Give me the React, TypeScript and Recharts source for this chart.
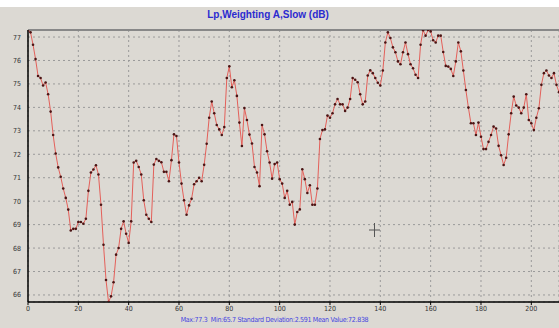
import React from "react";
import {
  LineChart,
  Line,
  XAxis,
  YAxis,
  CartesianGrid,
  ReferenceLine,
} from "recharts";

// sound level, one reading per second
const levels = [
  77.3, 77.2, 76.67, 76.06, 75.34, 75.25, 74.93, 75.06, 74.56, 73.82,
  72.82, 72.03, 71.44, 71.04, 70.54, 70.14, 69.64, 68.75, 68.82, 68.82,
  69.11, 69.11, 69.04, 69.25, 70.44, 71.22, 71.35, 71.53, 71.14, 69.85,
  68.14, 66.64, 65.7, 65.94, 66.54, 67.72, 68.0, 68.82, 69.14, 68.61,
  68.22, 69.14, 71.65, 71.72, 71.46, 71.14, 70.04, 69.42, 69.25, 69.11,
  71.56, 71.8, 71.72, 71.66, 71.25, 71.25, 70.85, 71.75, 72.85, 72.78,
  71.65, 70.75, 70.04, 69.42, 69.82, 70.1, 70.72, 70.85, 71.0, 70.85,
  71.55, 72.45, 73.56, 74.25, 73.75, 73.25, 73.06, 72.82, 73.16, 75.25,
  75.75, 74.86, 75.16, 74.49, 73.35, 72.35, 73.97, 73.46, 72.84, 72.46,
  71.46, 71.22, 70.64, 73.25, 72.85, 72.13, 71.65, 70.96, 71.58, 71.65,
  70.94, 70.75, 70.14, 70.44, 69.85, 69.97, 69.0, 69.54, 69.65, 71.36,
  70.94, 70.35, 70.68, 69.85, 69.85, 70.54, 72.65, 73.03, 73.06, 73.65,
  73.56, 73.75, 74.13, 74.36, 74.13, 74.13, 73.85, 73.99, 74.36, 75.25,
  75.18, 75.07, 74.56, 74.13, 74.25, 75.36, 75.58, 75.46, 75.25, 75.05,
  74.93, 75.57, 76.77, 77.2, 76.96, 76.56, 76.35, 75.96, 75.84, 76.35,
  76.77, 76.27, 75.84, 75.67, 75.39, 75.25, 76.67, 77.29, 77.06, 77.3,
  77.24, 76.86, 76.77, 77.06, 77.06, 76.36, 75.77, 75.74, 75.64, 75.34,
  75.96, 76.77, 76.39, 75.57, 74.74, 73.99, 73.32, 73.32, 72.82, 73.35,
  72.75, 72.22, 72.22, 72.53, 72.82, 73.18, 73.1, 72.36, 71.96, 71.54,
  71.85, 72.85, 73.75, 74.46, 74.08, 73.99, 73.75, 73.99, 74.56, 73.46,
  73.32, 73.03, 73.56, 73.96, 74.96, 75.46, 75.57, 75.36, 75.25, 75.46,
  74.96, 74.65,
];

const xTicks = [0, 20, 40, 60, 80, 100, 120, 140, 160, 180, 200];
const xMinorTicks = [
  5, 10, 15, 25, 30, 35, 45, 50, 55, 65, 70, 75, 85, 90, 95, 105, 110, 115,
  125, 130, 135, 145, 150, 155, 165, 170, 175, 185, 190, 195, 205, 210,
];
const yTicks = [66, 67, 68, 69, 70, 71, 72, 73, 74, 75, 76, 77];

const title = "Lp,Weighting A,Slow (dB)";
const stats = "Max:77.3  Min:65.7 Standard Deviation:2.591 Mean Value:72.838";

const data = levels.map((v, i) => ({ t: i, lp: v }));

const tickFont = {
  fontSize: 7,
  fill: "#333",
  fontFamily: "'Liberation Sans Narrow', 'DejaVu Sans Condensed', 'Liberation Sans', sans-serif",
};

const SmallDot = (props: any) => {
  const { cx, cy, index } = props;
  if (cx == null || cy == null) return null;
  return <circle key={index} cx={cx} cy={cy} r={1.3} fill="#4a1414" />;
};

export default function App() {
  return (
    <div
      style={{
        position: "absolute",
        left: 0,
        top: 0,
        width: 559,
        height: 328,
        background: "#dcd9d3",
        overflow: "hidden",
      }}
    >
      <div style={{ position: "absolute", left: 0, top: 0, width: 559, height: 7, background: "#fff" }} />
      <div
        style={{
          position: "absolute",
          left: 0,
          width: 536,
          top: 9,
          textAlign: "center",
          color: "#2b2bd0",
          fontWeight: "bold",
          fontSize: 10,
          fontFamily: "'Liberation Sans Narrow', 'Liberation Sans', sans-serif",
        }}
      >
        {title}
      </div>
      <LineChart
        width={559}
        height={328}
        data={data}
        margin={{ top: 30, right: 0, left: 0, bottom: 0 }}
      >
        <CartesianGrid xAxisId="major" stroke="#9a9a9a" strokeDasharray="2 3" />
        <XAxis
          xAxisId="minor"
          dataKey="t"
          type="number"
          domain={[0, 211]}
          ticks={xMinorTicks}
          height={0}
          tickSize={2}
          tick={() => <g />}
          axisLine={false}
          tickLine={{ stroke: "#000" }}
          allowDataOverflow
        />
        <XAxis
          xAxisId="major"
          dataKey="t"
          type="number"
          domain={[0, 211]}
          ticks={xTicks}
          height={26}
          tickSize={3}
          tickMargin={1}
          tick={tickFont}
          axisLine={{ stroke: "#000", strokeWidth: 1.5 }}
          tickLine={{ stroke: "#000" }}
          allowDataOverflow
        />
        <YAxis
          type="number"
          domain={[65.7, 77.3]}
          ticks={yTicks}
          width={28}
          tickSize={4}
          tickMargin={3}
          tick={tickFont}
          axisLine={{ stroke: "#000", strokeWidth: 1.5 }}
          tickLine={false}
          allowDataOverflow
        />
        <ReferenceLine xAxisId="major" y={77.3} stroke="#888" strokeWidth={2} ifOverflow="visible" />
        <Line
          xAxisId="major"
          type="linear"
          dataKey="lp"
          stroke="#e4605a"
          strokeWidth={1}
          dot={<SmallDot />}
          activeDot={false}
          isAnimationActive={false}
        />
      </LineChart>
      {/* mouse cursor captured in the screenshot */}
      <svg
        width={12}
        height={16}
        style={{ position: "absolute", left: 369, top: 222 }}
      >
        <line x1={0} y1={8} x2={11} y2={8} stroke="#555" strokeWidth={1} />
        <line x1={5.5} y1={1} x2={5.5} y2={15} stroke="#555" strokeWidth={1} />
      </svg>
      <div
        style={{
          position: "absolute",
          left: 0,
          width: 549,
          top: 316,
          textAlign: "center",
          color: "#4545e0",
          fontSize: 7,
          letterSpacing: -0.3,
          fontFamily: "'Liberation Sans Narrow', 'DejaVu Sans Condensed', 'Liberation Sans', sans-serif",
          whiteSpace: "pre",
        }}
      >
        {stats}
      </div>
    </div>
  );
}
